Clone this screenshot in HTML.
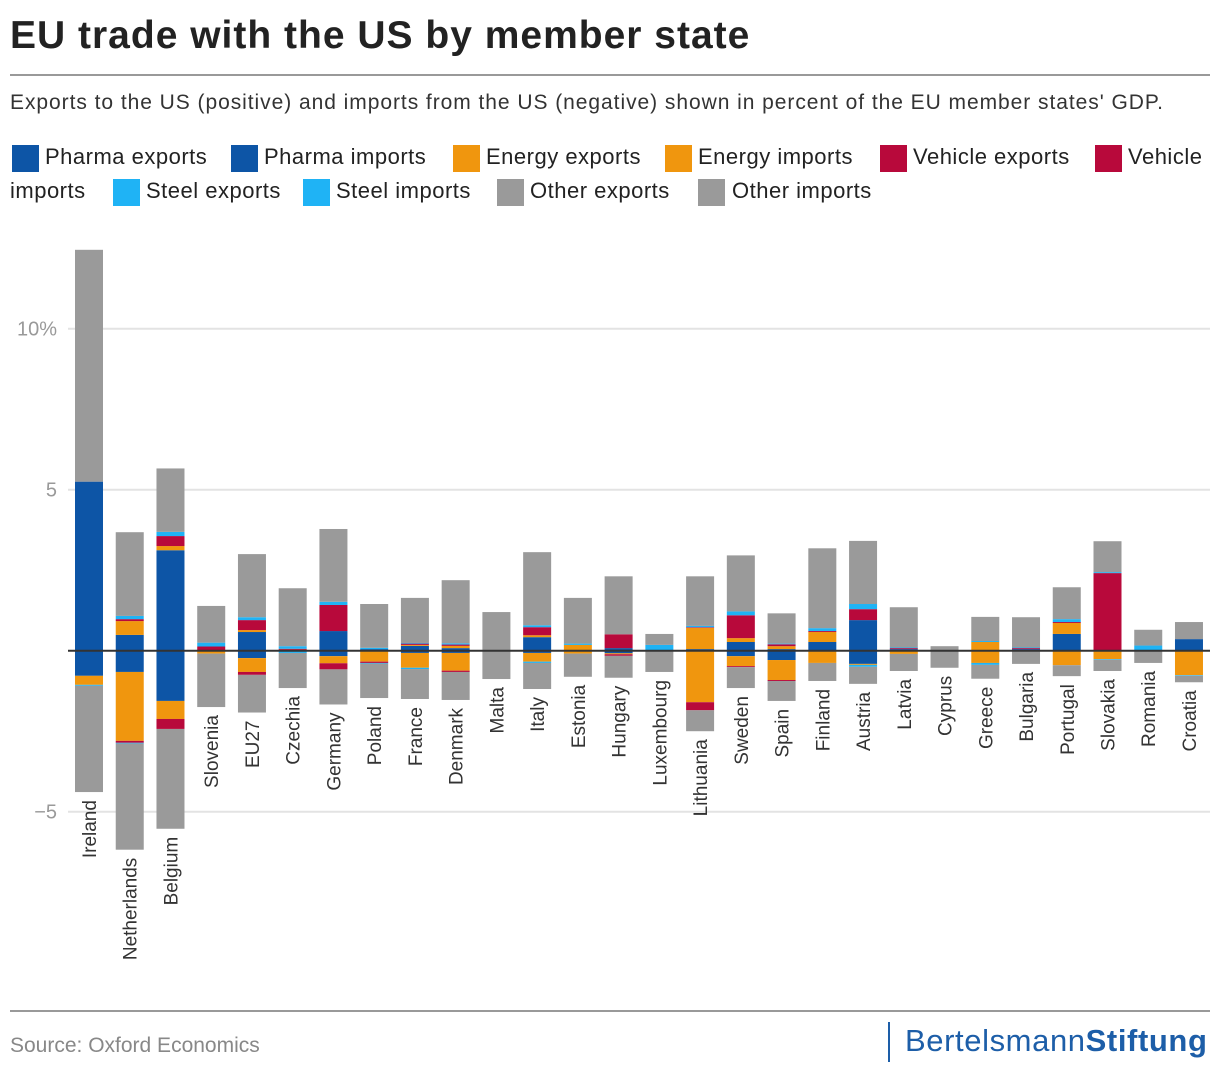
<!DOCTYPE html>
<html><head><meta charset="utf-8"><style>
body{margin:0;background:#fff;font-family:"Liberation Sans",sans-serif;}
#wrap{position:relative;width:1220px;height:1076px;overflow:hidden;}
.t{position:absolute;white-space:nowrap;}
.sq{position:absolute;width:27px;height:27px;}
.lg{position:absolute;font-size:22px;color:#222;top:144px;letter-spacing:0.5px;}
</style></head><body><div id="wrap">
<div class="t" style="left:10px;top:14px;font-size:39px;font-weight:bold;color:#222;letter-spacing:1px;">EU trade with the US by member state</div>
<div style="position:absolute;left:10px;top:74px;width:1200px;height:2px;background:#999;"></div>
<div class="t" style="left:10px;top:91px;font-size:21px;color:#333;letter-spacing:0.95px;">Exports to the US (positive) and imports from the US (negative) shown in percent of the EU member states' GDP.</div>
<div>
<div class="sq" style="left:12px;top:145px;background:#0d55a6"></div><div class="lg" style="left:45px">Pharma exports</div>
<div class="sq" style="left:231px;top:145px;background:#0d55a6"></div><div class="lg" style="left:264px">Pharma imports</div>
<div class="sq" style="left:453px;top:145px;background:#f0960e"></div><div class="lg" style="left:486px">Energy exports</div>
<div class="sq" style="left:665px;top:145px;background:#f0960e"></div><div class="lg" style="left:698px">Energy imports</div>
<div class="sq" style="left:880px;top:145px;background:#b8093b"></div><div class="lg" style="left:913px">Vehicle exports</div>
<div class="sq" style="left:1095px;top:145px;background:#b8093b"></div><div class="lg" style="left:1128px">Vehicle</div>
<div class="lg" style="left:10px;top:178px">imports</div>
<div class="sq" style="left:113px;top:179px;background:#1fb3f5"></div><div class="lg" style="left:146px;top:178px">Steel exports</div>
<div class="sq" style="left:303px;top:179px;background:#1fb3f5"></div><div class="lg" style="left:336px;top:178px">Steel imports</div>
<div class="sq" style="left:497px;top:179px;background:#9a9a9a"></div><div class="lg" style="left:530px;top:178px">Other exports</div>
<div class="sq" style="left:698px;top:179px;background:#9a9a9a"></div><div class="lg" style="left:732px;top:178px">Other imports</div>
</div>
<svg id="plot" width="1220" height="1076" style="position:absolute;left:0;top:0"></svg>
<div style="position:absolute;left:10px;top:1010px;width:1200px;height:2px;background:#999;"></div>
<div class="t" style="left:10px;top:1034px;font-size:21px;color:#888;">Source: Oxford Economics</div>
<div style="position:absolute;left:888px;top:1022px;width:2px;height:40px;background:#1d5ea8;"></div>
<div class="t" style="left:905px;top:1023px;font-size:31px;color:#1d5ea8;letter-spacing:0.6px;">Bertelsmann<b>Stiftung</b></div>
</div>
<script>
const categories=["Ireland","Netherlands","Belgium","Slovenia","EU27","Czechia","Germany","Poland","France","Denmark","Malta","Italy","Estonia","Hungary","Luxembourg","Lithuania","Sweden","Spain","Finland","Austria","Latvia","Cyprus","Greece","Bulgaria","Portugal","Slovakia","Romania","Croatia"];
const pharmaExports=[5.25,0.49,3.12,0,0.58,0,0.61,0.05,0.15,0.08,0,0.42,0,0.08,0,0.05,0.27,0.05,0.27,0.95,0.05,0,0,0.05,0.52,0,0,0.36];
const energyExports=[0,0.43,0.13,0.02,0.06,0.03,0,0,0.03,0.07,0,0.06,0.18,0,0,0.66,0.12,0.09,0.31,0,0,0,0.27,0,0.34,0,0,0];
const vehicleExports=[0,0.06,0.31,0.11,0.31,0.03,0.81,0,0.04,0.04,0,0.25,0,0.43,0,0.02,0.71,0.06,0.03,0.34,0.03,0,0,0.03,0.03,2.41,0,0];
const steelExports=[0,0.1,0.13,0.12,0.09,0.08,0.1,0.04,0.02,0.04,0,0.06,0.04,0,0.18,0.04,0.12,0.02,0.09,0.16,0.02,0,0.03,0.02,0.09,0.03,0.16,0];
const otherExports=[7.2,2.6,1.97,1.14,1.96,1.8,2.26,1.36,1.4,1.96,1.2,2.27,1.42,1.8,0.34,1.54,1.74,0.94,2.48,1.96,1.25,0.14,0.75,0.94,0.99,0.96,0.49,0.53];
const pharmaImports=[0.78,0.66,1.56,0,0.23,0,0.17,0,0.07,0.07,0,0.07,0,0.08,0,0,0.17,0.29,0,0.41,0,0,0,0,0,0,0,0];
const energyImports=[0.28,2.14,0.56,0.09,0.43,0,0.22,0.34,0.46,0.55,0,0.27,0.09,0.03,0,1.6,0.31,0.62,0.38,0.03,0.1,0,0.38,0,0.45,0.26,0,0.76];
const vehicleImports=[0,0.06,0.31,0,0.09,0,0.19,0.04,0,0.04,0,0,0,0.05,0,0.25,0.03,0.03,0,0,0,0,0,0,0,0,0,0];
const steelImports=[0.03,0.02,0,0,0,0.07,0,0.02,0.04,0,0,0.04,0,0,0,0,0,0,0,0.06,0,0,0.06,0,0,0.02,0,0.02];
const otherImports=[3.3,3.3,3.1,1.66,1.17,1.09,1.09,1.07,0.93,0.87,0.88,0.81,0.72,0.68,0.66,0.65,0.65,0.62,0.56,0.53,0.53,0.53,0.43,0.41,0.34,0.35,0.38,0.2];
const yTicks=[10,5,-5];
const yTickLabels=["10%","5","\u22125"];

const NS="http://www.w3.org/2000/svg";
const svg=document.getElementById('plot');
const y=v=>650.7-v*32.2;
const x=i=>89+i*40.74;
const BW=28;
function mk(t,a){const e=document.createElementNS(NS,t);for(const k in a)e.setAttribute(k,a[k]);svg.appendChild(e);return e;}
yTicks.forEach((t,i)=>{
  const g=mk('line',{x1:68,x2:1210,y1:y(t),y2:y(t),stroke:'#e3e3e3','stroke-width':2});
  
  
  const tx=mk('text',{x:57,y:y(t)+7,'text-anchor':'end','font-size':20,fill:'#999','font-family':'Liberation Sans'});
  tx.textContent=yTickLabels[i];
  
  
});
const pos=[[pharmaExports,'#0d55a6'],[energyExports,'#f0960e'],[vehicleExports,'#b8093b'],[steelExports,'#1fb3f5'],[otherExports,'#9a9a9a']];
const neg=[[pharmaImports,'#0d55a6'],[energyImports,'#f0960e'],[vehicleImports,'#b8093b'],[steelImports,'#1fb3f5'],[otherImports,'#9a9a9a']];
categories.forEach((c,i)=>{
  let acc=0;
  pos.forEach(([arr,col])=>{const v=arr[i];if(v>0){const r=mk('rect',{x:x(i)-BW/2,y:y(acc+v),width:BW,height:v*32.2,fill:col});
    
    }acc+=v;});
  let n=0;
  neg.forEach(([arr,col])=>{const v=arr[i];if(v>0){const r=mk('rect',{x:x(i)-BW/2,y:y(-n),width:BW,height:v*32.2,fill:col});
    
    }n+=v;});
  const ly=y(-n)+8;
  const t=mk('text',{x:0,y:0,transform:`translate(${x(i)+7},${ly}) rotate(-90)`,'text-anchor':'end','font-size':19,fill:'#333','font-family':'Liberation Sans'});
  t.textContent=c;
  
  
});
const z=mk('line',{x1:68,x2:1210,y1:y(0),y2:y(0),stroke:'#333','stroke-width':2});


</script></body></html>
